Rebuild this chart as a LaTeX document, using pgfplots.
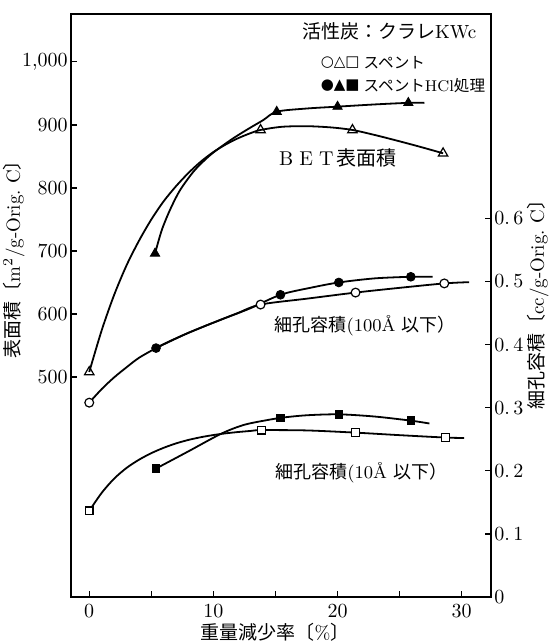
\documentclass[border=0pt]{standalone}
\usepackage{pgfplots}
\pgfplotsset{compat=1.18}
\usepackage{fontspec}
\newfontfamily\cjk{Noto Sans CJK JP}
\newfontfamily\dv{DejaVu Sans}

\begin{document}
\begin{tikzpicture}
\useasboundingbox (-35.5pt,-23.5pt) rectangle (238.5pt,298.5pt);
% ---------------- left axis: BET surface area ----------------
\begin{axis}[
  at={(0,0)}, anchor=south west,
  scale only axis, width=210pt, height=291.5pt,
  xmin=-1.47, xmax=32.36, ymin=151, ymax=1076,
  axis line style={line width=0.8pt},
  xtick={0,5,...,30}, xticklabels={0,,10,,20,,30},
  ytick={500,600,700,800,900,1000},
  yticklabels={500,600,700,800,900,{1{,}000}},
  xtick pos=bottom, ytick pos=left,
  tick align=inside, major tick length=3.2pt,
  tick style={black, line width=0.6pt},
  ticklabel style={font=\fontsize{10}{12}\selectfont},
  yticklabel style={inner xsep=1.5pt},
  xlabel={重量減少率〔{\rmfamily\%}〕},
  xlabel style={font=\cjk\fontsize{9.5}{11}\selectfont, at={(rel axis cs:0.486,-0.06)}, anchor=center},
  ylabel={表面積〔{\rmfamily m$^2$/g-Orig.\ C}〕},
  ylabel style={font=\cjk\fontsize{9.5}{11}\selectfont, at={(rel axis cs:-0.1357,0.587)}, anchor=center},
]
% spent (open triangles) curve
\addplot[smooth, black, line width=0.9pt] coordinates {
 (0,508) (1,574) (2,630) (3,677) (4,716) (5,750) (6,779) (7,803) (8,824)
 (9,842) (10,857) (11,869) (12,879) (13,887) (13.8,892) (15.5,897) (17.5,898)
 (19.5,896) (21.2,892) (23,884) (24.8,875) (26.7,865) (28.5,855)};
% HCl treated (filled triangles) curve
\addplot[smooth, black, line width=0.9pt] coordinates {
 (5.3,696) (5.84,733) (6.5,765) (7.3,796) (8.4,826) (9.45,847) (10.25,860)
 (11.5,877.5) (12.75,893) (14,907.5) (15.1,921) (17.5,926) (20,929) (23,932.5)
 (25.7,935) (27,935)};
\addplot[only marks, mark=triangle, mark size=2.7pt,
  mark options={fill=white, draw=black, line width=0.6pt}] coordinates {
 (0,508) (13.8,892) (21.2,892) (28.5,855)};
\addplot[only marks, mark=triangle*, mark size=2.7pt,
  mark options={fill=black, draw=black}] coordinates {
 (5.3,696) (15.1,921) (20.0,929) (25.7,935)};

% annotations
\node[anchor=east, font=\cjk\fontsize{9.5}{11}\selectfont] at (rel axis cs:0.982,0.971) {活性炭：クラレ{\rmfamily KWc}};
\node[anchor=west, font=\dv\fontsize{7.5}{8}\selectfont] at (rel axis cs:0.578,0.916) {○△□};
\node[anchor=west, font=\cjk\fontsize{7.8}{9}\selectfont] at (rel axis cs:0.68,0.916) {スペント};
\node[anchor=west, font=\dv\fontsize{7.5}{8}\selectfont] at (rel axis cs:0.578,0.878) {●▲■};
\node[anchor=west, font=\cjk\fontsize{7.8}{9}\selectfont] at (rel axis cs:0.68,0.878) {スペント{\rmfamily HCl}処理};
\node[anchor=west, font=\cjk\fontsize{10}{12}\selectfont] at (rel axis cs:0.472,0.753) {{\rmfamily\makebox[10pt]{B}\makebox[10pt]{E}\makebox[10pt]{T}}表面積};
\node[anchor=west, font=\cjk\fontsize{9}{11}\selectfont] at (rel axis cs:0.468,0.465) {細孔容積{\rmfamily (100Å }以下）};
\node[anchor=west, font=\cjk\fontsize{9}{11}\selectfont] at (rel axis cs:0.470,0.213) {細孔容積{\rmfamily (10Å }以下）};
\end{axis}

% ---------------- right axis: pore volume ----------------
\begin{axis}[
  at={(0,0)}, anchor=south west,
  scale only axis, width=210pt, height=291.5pt,
  xmin=-1.47, xmax=32.36, ymin=0, ymax=0.924,
  axis x line=none, axis y line*=right,
  axis line style={line width=0.8pt, -},
  ytick={0,0.1,0.2,0.3,0.4,0.5,0.6},
  yticklabels={0,{0.\,1},{0.\,2},{0.\,3},{0.\,4},{0.\,5},{0.\,6}},
  tick align=inside, major tick length=3.2pt,
  tick style={black, line width=0.6pt},
  ticklabel style={font=\fontsize{10}{12}\selectfont},
  yticklabel style={inner xsep=1.5pt},
  ylabel={細孔容積〔{\rmfamily cc/g-Orig.\ C}〕},
  ylabel style={font=\cjk\fontsize{9.5}{11}\selectfont, at={(rel axis cs:1.112,0.509)}, anchor=center},
]
% 100 A, spent (open circles)
\addplot[smooth, black, line width=0.9pt] coordinates {
 (0,0.308) (1,0.3295) (2,0.348) (3,0.364) (4,0.379) (5.38,0.3945) (6.5,0.4056)
 (7.85,0.4175) (9.2,0.4285) (10.5,0.4387) (11.9,0.4495) (13.8,0.4635) (17.6,0.473)
 (21.45,0.4825) (25,0.490) (28.6,0.497) (30.6,0.499)};
% 100 A, HCl treated (filled circles)
\addplot[smooth, black, line width=0.9pt] coordinates {
 (5.38,0.3945) (7.85,0.4175) (10.5,0.4387) (12.9,0.457) (15.4,0.479) (17.8,0.490)
 (20.1,0.4985) (23,0.505) (25.9,0.5075) (27.65,0.5075)};
% 10 A, spent (open squares)
\addplot[smooth, black, line width=0.9pt] coordinates {
 (0,0.1365) (1,0.165) (2,0.1875) (3,0.2045) (4,0.2175) (5,0.228) (6,0.2365)
 (7,0.2435) (8,0.249) (9,0.2533) (10,0.2567) (11,0.2594) (12,0.2615) (13,0.2632)
 (13.87,0.2645) (17.5,0.264) (21.45,0.2605) (25,0.2565) (28.7,0.2527) (30.2,0.252)};
% 10 A, HCl treated (filled squares)
\addplot[smooth, black, line width=0.9pt] coordinates {
 (5.38,0.2036) (8,0.231) (10.65,0.259) (12.5,0.273) (14.5,0.281) (15.4,0.284)
 (17.5,0.288) (20.1,0.2895) (23,0.286) (25.9,0.2795) (27.4,0.275)};
% markers
\addplot[only marks, mark=*, mark size=2.2pt,
  mark options={fill=white, draw=black, line width=0.6pt}] coordinates {
 (0,0.308) (13.8,0.4635) (21.45,0.4825) (28.6,0.497)};
\addplot[only marks, mark=*, mark size=2.2pt,
  mark options={fill=black, draw=black}] coordinates {
 (5.38,0.3945) (15.4,0.479) (20.1,0.4985) (25.9,0.5075)};
\addplot[only marks, mark=square*, mark size=1.9pt,
  mark options={fill=white, draw=black, line width=0.6pt}] coordinates {
 (0,0.1365) (13.87,0.2645) (21.45,0.2605) (28.7,0.2527)};
\addplot[only marks, mark=square*, mark size=1.9pt,
  mark options={fill=black, draw=black}] coordinates {
 (5.38,0.2036) (15.4,0.284) (20.1,0.2895) (25.9,0.2795)};
\end{axis}
\end{tikzpicture}
\end{document}
